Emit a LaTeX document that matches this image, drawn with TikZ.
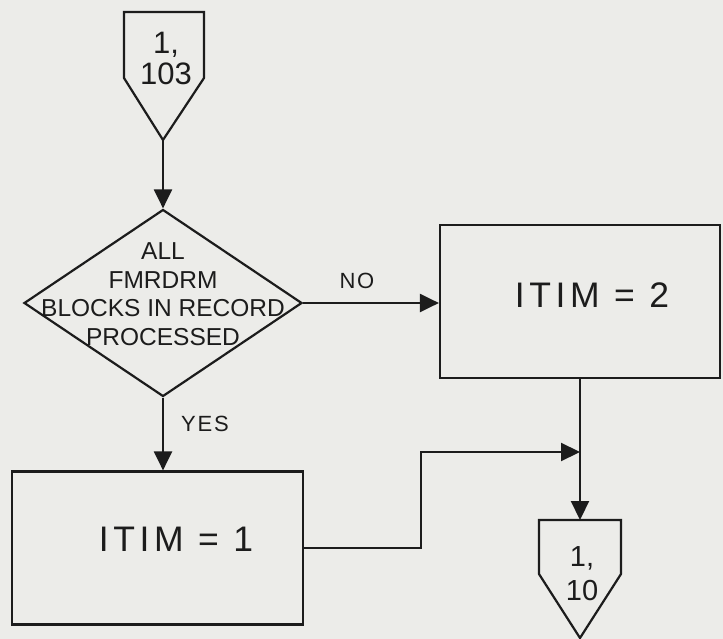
\documentclass[tikz,border=0pt]{standalone}
\usepackage{fontspec}
\setmainfont{Liberation Sans}
\usetikzlibrary{arrows.meta,shapes.geometric}
\definecolor{paper}{RGB}{236,236,233}
\definecolor{ink}{RGB}{28,28,28}
\begin{document}
\begin{tikzpicture}[x=1pt,y=-1pt,
  line/.style={draw=ink,line width=2.2pt,line join=miter},
  flow/.style={line,-{Triangle[length=19pt,width=18pt]}},
  procbox/.style={draw=ink,line width=2.2pt,rectangle,inner sep=0pt},
  decision/.style={draw=ink,line width=2.2pt,diamond,inner sep=0pt},
  conntext/.style={align=center,text=ink,font=\fontsize{31}{31}\selectfont},
  dtext/.style={align=center,text=ink,font=\fontsize{24.5}{28.5}\selectfont},
  boxtext/.style={text=ink,font=\addfontfeatures{LetterSpace=13}\fontsize{35.5}{36}\selectfont},
  lbl/.style={text=ink,font=\addfontfeatures{LetterSpace=8}\fontsize{22}{24}\selectfont}]
\useasboundingbox (0,0) rectangle (723,639);
\fill[paper] (0,0) rectangle (723,639);

% top off-page connector
\coordinate (c1a) at (124,12);
\coordinate (c1b) at (204,12);
\coordinate (c1tip) at (163,140);
\draw[line] (c1a) -- (c1b) -- (204,78) -- (c1tip) -- (124,78) -- cycle;
\node[conntext] (c1t) at (166,58) {1,\\103};

% decision
\node[decision,minimum width=278pt,minimum height=187pt] (d) at (163,303) {};
\node[dtext] (dt) at (163,294) {ALL\\FMRDRM\\BLOCKS IN RECORD\\PROCESSED};

% process boxes
\node[procbox,minimum width=280pt,minimum height=153pt] (b2) at (580,301.5) {};
\node[boxtext] (b2t) at (592,295) {ITIM = 2};
\node[procbox,minimum width=291pt,minimum height=153pt] (b1) at (157.5,548) {};
\node[boxtext] (b1t) at (176,539) {ITIM = 1};

% bottom off-page connector
\coordinate (c2a) at (539,520);
\coordinate (c2b) at (621,520);
\coordinate (c2top) at (580,520);
\draw[line] (c2a) -- (c2b) -- (621,574) -- (580,638) -- (539,574) -- cycle;
\node[conntext,font=\fontsize{29}{34}\selectfont] (c2t) at (582,574) {1,\\10};

% connectors
\draw[flow] (c1tip) -- (d.north);
\draw[flow] (d.east) -- (d.east -| b2.west);
\node[lbl] (no) at (357,281) {NO};
\draw[flow] (d.south) -- (d.south |- b1.north);
\node[lbl] (yes) at (205,424) {YES};
\coordinate (j) at (580,452);
\draw[flow] (b1.east) -- ++(117,0) |- (j);
\draw[flow] (b2.south) -- (c2top);
\end{tikzpicture}
\end{document}
